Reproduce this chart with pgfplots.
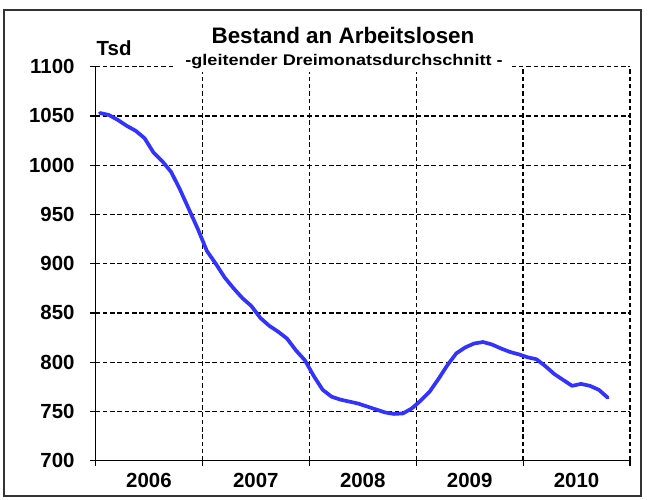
\documentclass[border=0pt]{standalone}
\usepackage{pgfplots}
\pgfplotsset{compat=1.18}
\usepackage{fontspec}
\setmainfont{Liberation Sans}
\definecolor{lineblue}{RGB}{51,51,255}
\begin{document}
\begin{tikzpicture}
\path[use as bounding box] (0,0) rectangle (648bp,-500bp);
\draw[black!80, line width=1.6bp] (4bp,-10bp) rectangle (641bp,-496bp);
\begin{axis}[
  at={(95.5bp,-460.7bp)}, anchor=south west,
  scale only axis, width=534.5bp, height=394bp,
  xmin=-0.5, xmax=59.5, ymin=700, ymax=1100,
  axis x line*=bottom, axis y line*=left,
  axis line style={line width=1.5bp, black},
  xtick={-0.5,11.5,23.5,35.5,47.5,59.5},
  xticklabels={},
  extra x ticks={5.5,17.5,29.5,41.5,53.5},
  extra x tick labels={2006,2007,2008,2009,2010},
  extra x tick style={grid=none, major tick length=0pt, xticklabel style={yshift=-9bp}},
  ytick={700,750,...,1100},
  yticklabels={700,750,800,850,900,950,1000,1050,1100},
  yticklabel style={xshift=-12bp},
  tick align=outside, major tick length=5.5bp,
  tick style={black, line width=1.2bp},
  grid=major,
  major grid style={black, dash pattern=on 4.5bp off 2.8bp, line width=1.3bp},
  ticklabel style={font=\bfseries\fontsize{20.5}{22}\selectfont},
]
\addplot[color=lineblue, line width=3.7bp, line join=round, line cap=round] coordinates {
(0,1053) (1,1051) (2,1046) (3,1040) (4,1035) (5,1027.5) (6,1013) (7,1004) (8,993) (9,975)
(10,955) (11,935) (12,913) (13,900) (14,886) (15,875) (16,865) (17,857) (18,845) (19,837)
(20,831) (21,824) (22,812) (23,802) (24,786) (25,772) (26,765) (27,762) (28,760) (29,758)
(30,755) (31,752) (32,749) (33,747.5) (34,748) (35,753) (36,761) (37,770) (38,783) (39,797)
(40,809) (41,815) (42,819) (43,820.5) (44,818) (45,814) (46,810.5) (47,808) (48,805) (49,803)
(50,796) (51,788) (52,782) (53,776) (54,778) (55,776) (56,772) (57,764)
};
\end{axis}
\node[anchor=base, font=\bfseries\fontsize{22.5}{24}\selectfont] at (343bp,-43.3bp) {Bestand an Arbeitslosen};
\node[anchor=base, fill=white, inner xsep=9bp, inner ysep=4bp, font=\bfseries\fontsize{15.5}{16}\selectfont] at (344bp,-65bp) {\scalebox{1.17}[1]{-gleitender Dreimonatsdurchschnitt -}};
\node[anchor=base west, inner sep=0pt, font=\bfseries\fontsize{20.5}{22}\selectfont] at (96.5bp,-55bp) {Tsd};
\end{tikzpicture}
\end{document}
